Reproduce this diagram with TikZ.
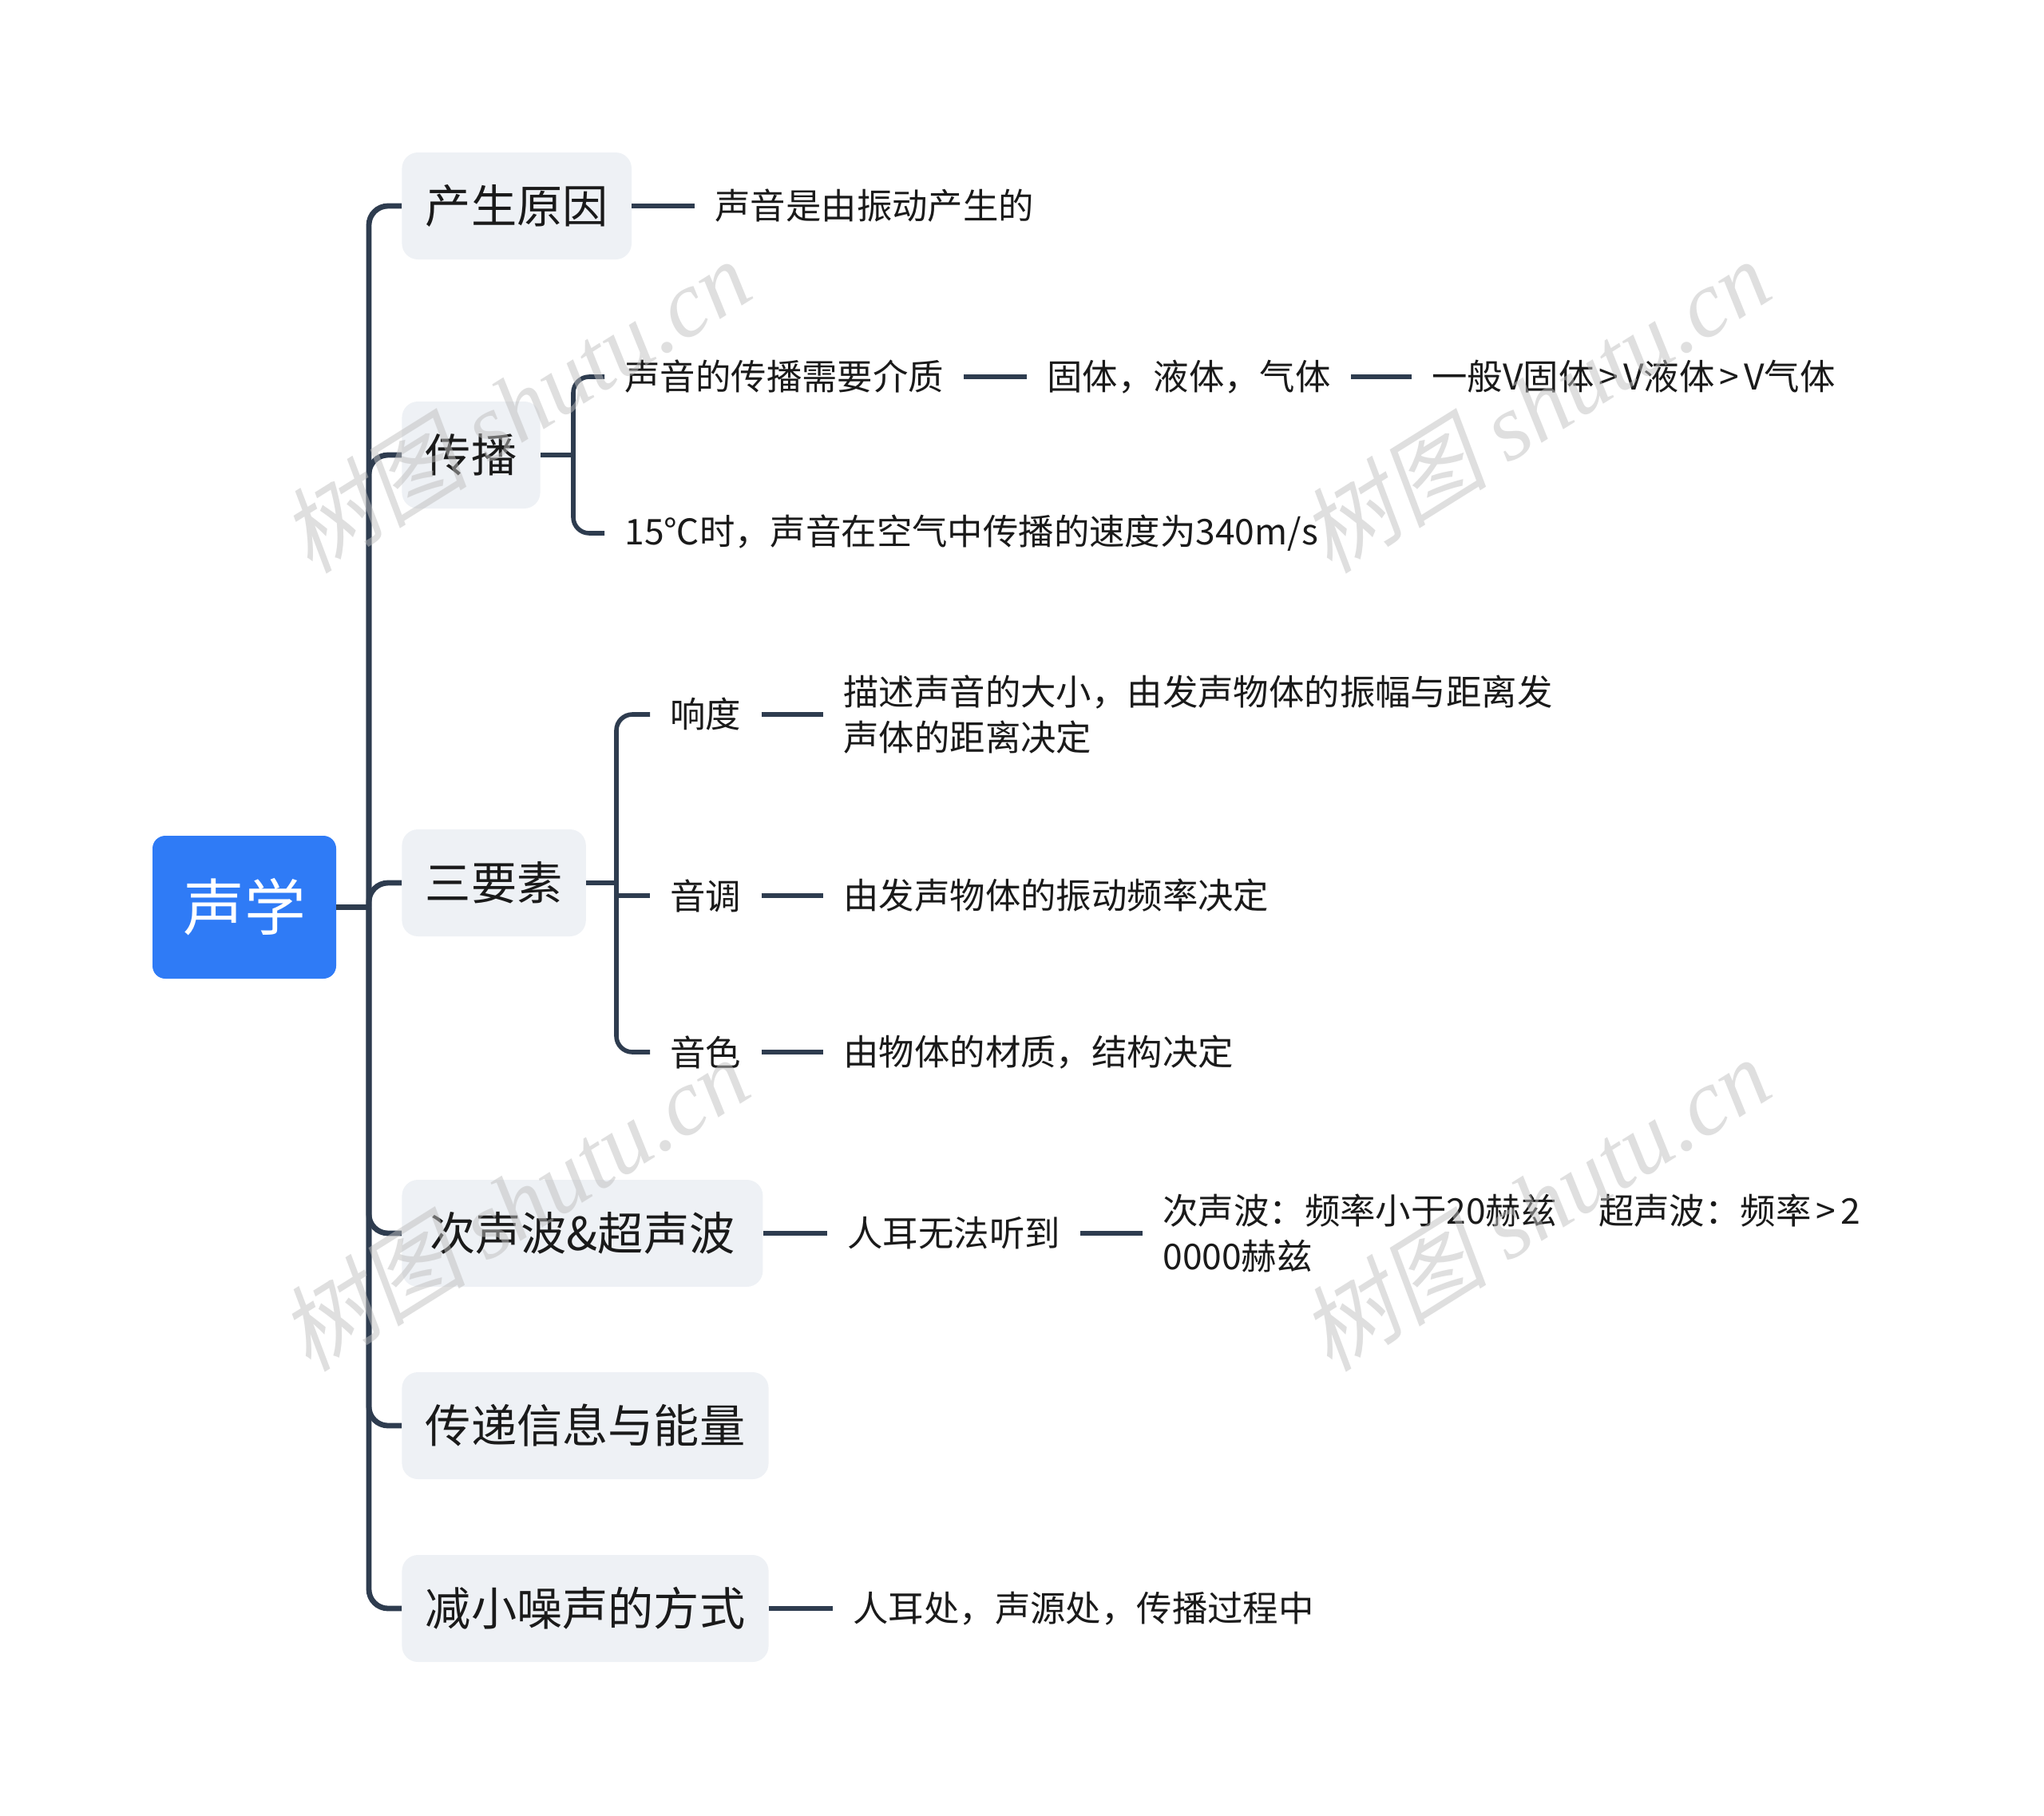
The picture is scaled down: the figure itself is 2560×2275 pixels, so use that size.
\documentclass[tikz,border=0pt]{standalone}
\usepackage{fontspec}
\setmainfont{Noto Sans CJK SC}
\newfontfamily\wmcjk[FakeSlant=0.2]{Noto Sans CJK SC}
\newfontfamily\wmlat{Liberation Serif}
\definecolor{linec}{HTML}{2E3C4F}
\definecolor{boxc}{HTML}{EEF1F5}
\definecolor{rootc}{HTML}{2F7BF6}
\definecolor{txtc}{HTML}{1A1A1A}
\newcommand\gtsym{\hspace{3pt}>\hspace{3pt}}
\tikzset{
 rootbox/.style={fill=rootc, rounded corners=8pt, minimum width=115pt, minimum height=89.5pt, font=\fontsize{38.4}{46}\selectfont, text=white, inner sep=0pt},
 topic/.style={fill=boxc, rounded corners=10pt, anchor=west, minimum height=67pt, inner xsep=14.7pt, inner ysep=0pt, font=\fontsize{28.6}{34}\selectfont, text=txtc},
 leaf/.style={anchor=west, inner xsep=12.5pt, inner ysep=2pt, font=\fontsize{22.2}{28.6}\selectfont, align=left, text=txtc},
 trunk/.style={draw=linec, line width=3.4pt, rounded corners=12pt},
 conn/.style={draw=linec, line width=2.8pt},
 wm/.style={rotate=32, text=gray!50, text opacity=0.5, font=\fontsize{59}{59}\selectfont}
}
\begin{document}
\begin{tikzpicture}[x=0.5pt,y=-0.5pt]
\useasboundingbox (0,0) rectangle (2560,2275);
% root and main topics
\node[rootbox] (root) at (306,1136.5) {声学};
\node[topic] (a) at (503,258) {产生原因};
\node[topic] (b) at (503,570) {传播};
\node[topic] (c) at (503,1106) {三要素};
\node[topic, minimum width=226pt] (d) at (503,1545) {次声波\&超声波};
\node[topic] (e) at (503,1786) {传递信息与能量};
\node[topic] (f) at (503,2015) {减小噪声的方式};
\coordinate (j) at (462,1136.5);
\draw[trunk] (root.east) -- (j);
\foreach \t in {a,b,c,d,e,f}{\draw[trunk] (j) |- (\t.west);}
% 产生原因
\node[leaf] (a1) at (870,258) {声音是由振动产生的};
\draw[conn] (a.east) -- (a1.west);
% 传播
\node[leaf] (b1) at (757,472) {声音的传播需要介质};
\node[leaf] (b2) at (757,668) {15℃时，声音在空气中传播的速度为340m/s};
\node[leaf] (b3) at (1286,472) {固体，液体，气体};
\node[leaf] (b4) at (1768,472) {一般V固体\gtsym V液体\gtsym V气体};
\coordinate (bj) at (718,570);
\draw[conn] (b.east) -- (bj);
\draw[conn, rounded corners=10pt] (b1.west) -| (bj) |- (b2.west);
\draw[conn] (b1.east) -- (b3.west);
\draw[conn] (b3.east) -- (b4.west);
% 三要素
\coordinate (cj) at (772,1106);
\node[leaf] (c1) at (814,895) {响度};
\node[leaf] (c2) at (814,1122) {音调};
\node[leaf] (c3) at (814,1318) {音色};
\draw[conn] (c.east) -- (cj);
\draw[conn, rounded corners=10pt] (c1.west) -| (cj) |- (c3.west);
\draw[conn] (c2.west -| cj) -- (c2.west);
\node[leaf] (c1a) at (1031,895) {描述声音的大小，由发声物体的振幅与距离发\\声体的距离决定};
\node[leaf] (c2a) at (1031,1122) {由发声物体的振动频率决定};
\node[leaf] (c3a) at (1031,1318) {由物体的材质，结构决定};
\draw[conn] (c1.east) -- (c1a.west);
\draw[conn] (c2.east) -- (c2a.west);
\draw[conn] (c3.east) -- (c3a.west);
% 次声波&超声波
\node[leaf] (d1) at (1036,1545) {人耳无法听到};
\node[leaf] (d2) at (1431,1545) {次声波：频率小于20赫兹　\hspace{4pt}超声波：频率\gtsym 2\\0000赫兹};
\draw[conn] (d.east) -- (d1.west);
\draw[conn] (d1.east) -- (d2.west);
% 减小噪声的方式
\node[leaf] (f1) at (1043,2015) {人耳处，声源处，传播过程中};
\draw[conn] (f.east) -- (f1.west);
% watermarks
\node[wm] (w1) at (645,508) {{\wmcjk 树图} {\wmlat\itshape shutu.cn}};
\node[wm] (w2) at (1922,508) {{\wmcjk 树图} {\wmlat\itshape shutu.cn}};
\node[wm] (w3) at (643,1508) {{\wmcjk 树图} {\wmlat\itshape shutu.cn}};
\node[wm] (w4) at (1922,1508) {{\wmcjk 树图} {\wmlat\itshape shutu.cn}};
\end{tikzpicture}
\end{document}
